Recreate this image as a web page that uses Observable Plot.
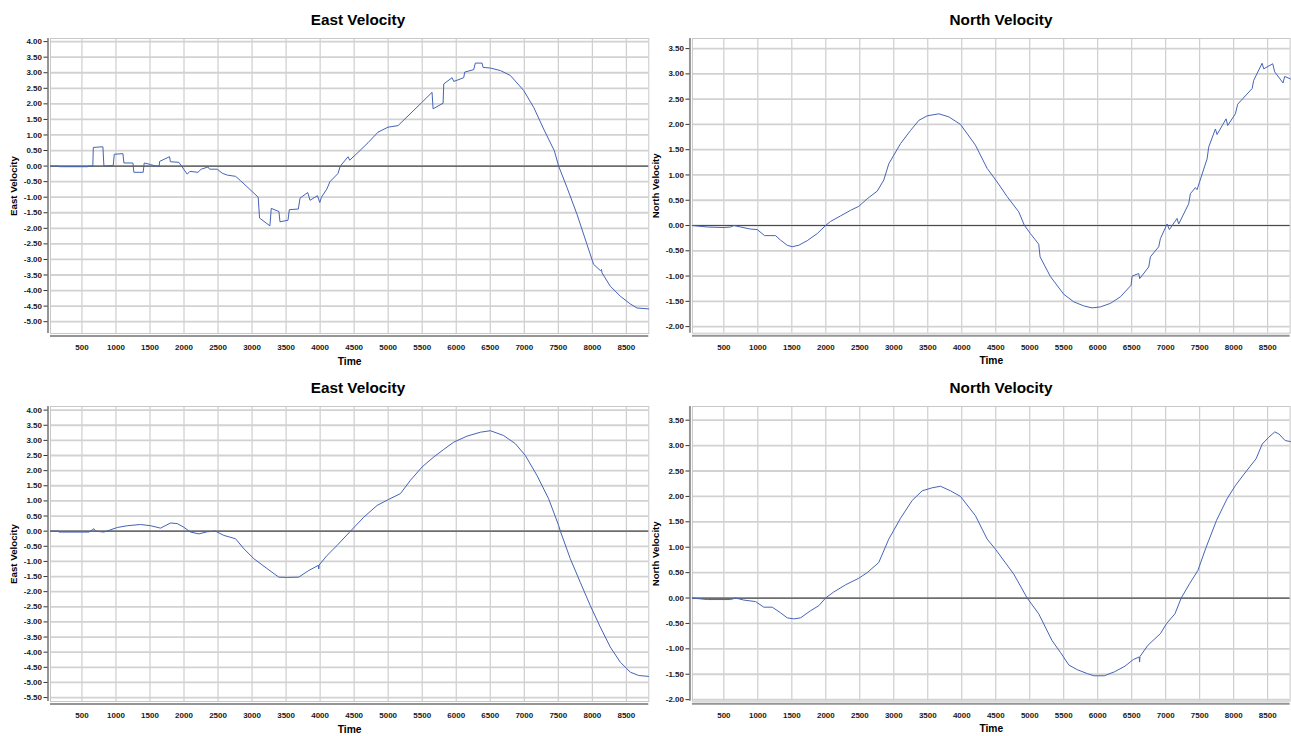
<!DOCTYPE html>
<html><head><meta charset="utf-8">
<script src="https://cdn.jsdelivr.net/npm/d3@7"></script>
<script src="https://cdn.jsdelivr.net/npm/@observablehq/plot@0.6"></script>
<style>
html,body{margin:0;padding:0;background:#fff;}
body{width:1291px;height:736px;position:relative;overflow:hidden;font-family:"Liberation Sans",Arial,sans-serif;}
.title{position:absolute;font-weight:bold;font-size:15.3px;line-height:20px;transform:translateX(-50%);white-space:nowrap;color:#000;}
.panel{position:absolute;}
</style></head><body>
<script>
// ---- tick labels ----
const timeTicks = [500,1000,1500,2000,2500,3000,3500,4000,4500,5000,5500,6000,6500,7000,7500,8000,8500];
const eastTopTicks = [4,3.5,3,2.5,2,1.5,1,0.5,0,-0.5,-1,-1.5,-2,-2.5,-3,-3.5,-4,-4.5,-5];
const eastBottomTicks = [4,3.5,3,2.5,2,1.5,1,0.5,0,-0.5,-1,-1.5,-2,-2.5,-3,-3.5,-4,-4.5,-5,-5.5];
const northTicks = [3.5,3,2.5,2,1.5,1,0.5,0,-0.5,-1,-1.5,-2];

// ---- East Velocity (top) ----
const eastTopTime = [40,160,165,585,590,660,667,808,823,960,975,1102,1117,1249,1263,1400,1415,1508,1583,1636,1641,1787,1800,1925,2047,2086,2204,2253,2351,2375,2488,2562,2636,2758,2831,3090,3110,3262,3282,3395,3410,3528,3548,3680,3705,3818,3852,3960,3995,4020,4098,4145,4262,4297,4410,4435,4557,4704,4851,4998,5145,5488,5645,5660,5807,5817,5939,5964,6110,6125,6257,6281,6380,6395,6502,6649,6796,6991,7138,7285,7442,7505,7628,7775,7922,8019,8120,8135,8142,8264,8411,8558,8656,8826];
const eastTopVel = [0,0,-0.02,-0.02,0,0,0.6,0.62,0,0.02,0.38,0.4,0.1,0.1,-0.2,-0.2,0.1,0.05,0,0,0.15,0.3,0.14,0.12,-0.26,-0.17,-0.2,-0.1,-0.03,-0.1,-0.1,-0.23,-0.29,-0.33,-0.47,-1.0,-1.67,-1.92,-1.36,-1.46,-1.79,-1.74,-1.4,-1.38,-1.03,-0.85,-1.1,-0.95,-1.17,-1.0,-0.74,-0.5,-0.24,0,0.3,0.19,0.44,0.75,1.09,1.25,1.3,2.03,2.37,1.84,2.02,2.64,2.84,2.72,2.84,3.02,3.1,3.31,3.31,3.17,3.15,3.07,2.91,2.43,1.89,1.19,0.49,0,-0.69,-1.55,-2.52,-3.16,-3.36,-3.32,-3.43,-3.86,-4.18,-4.43,-4.56,-4.59];

// ---- North Velocity (top) ----
const northTopTime = [35,256,501,599,647,746,893,991,1099,1260,1334,1432,1506,1603,1726,1873,1996,2069,2216,2363,2485,2609,2756,2853,2926,3099,3246,3368,3491,3662,3809,3981,4201,4373,4521,4668,4838,4922,5010,5132,5152,5304,5500,5647,5794,5917,6040,6187,6334,6491,6506,6603,6618,6750,6775,6897,6922,7020,7054,7167,7191,7338,7363,7437,7461,7609,7632,7731,7755,7888,7912,8025,8059,8271,8294,8418,8442,8574,8603,8726,8750,8834];
const northTopVel = [0,-0.03,-0.04,-0.03,0,-0.03,-0.07,-0.08,-0.2,-0.2,-0.29,-0.39,-0.42,-0.39,-0.3,-0.16,0,0.08,0.19,0.3,0.38,0.53,0.68,0.9,1.22,1.62,1.88,2.08,2.17,2.21,2.15,2.0,1.59,1.13,0.86,0.57,0.27,0,-0.16,-0.37,-0.62,-1.01,-1.36,-1.51,-1.59,-1.63,-1.61,-1.54,-1.41,-1.18,-1.0,-0.95,-1.05,-0.82,-0.62,-0.42,-0.26,0.03,-0.08,0.14,0.03,0.43,0.63,0.75,0.71,1.32,1.55,1.91,1.8,2.11,1.98,2.21,2.4,2.71,2.87,3.21,3.1,3.2,3.04,2.82,2.95,2.9];

// ---- East Velocity (bottom) ----
const eastBottomTime = [40,160,162,602,676,700,823,1019,1166,1361,1508,1655,1802,1900,1997,2096,2218,2341,2463,2585,2757,2879,3026,3222,3393,3516,3686,3833,3975,3980,3985,4103,4250,4446,4641,4837,5008,5180,5327,5498,5669,5816,5963,6159,6355,6502,6697,6869,7016,7187,7358,7505,7530,7676,7823,7970,8117,8264,8411,8558,8680,8826];
const eastBottomVel = [0,0,-0.03,-0.03,0.08,0,-0.03,0.12,0.18,0.22,0.18,0.1,0.27,0.25,0.13,-0.03,-0.09,-0.02,0,-0.14,-0.25,-0.58,-0.91,-1.24,-1.52,-1.53,-1.52,-1.3,-1.13,-1.25,-1.12,-0.8,-0.47,0,0.46,0.85,1.05,1.24,1.68,2.12,2.45,2.7,2.94,3.14,3.27,3.32,3.16,2.89,2.5,1.84,1.07,0.19,0,-0.91,-1.69,-2.46,-3.17,-3.83,-4.33,-4.66,-4.77,-4.8];

// ---- North Velocity (bottom) ----
const northBottomTime = [35,256,599,672,794,966,1088,1212,1334,1432,1529,1628,1775,1897,1996,2118,2290,2485,2609,2779,2926,3099,3270,3417,3565,3687,3834,3981,4201,4373,4496,4765,4962,5132,5329,5451,5576,5699,5852,5943,6096,6249,6402,6524,6610,6616,6622,6738,6922,7014,7136,7228,7350,7472,7595,7748,7901,8023,8176,8329,8420,8512,8604,8665,8757,8834];
const northBottomVel = [0,-0.03,-0.03,0,-0.04,-0.07,-0.18,-0.18,-0.29,-0.39,-0.41,-0.39,-0.25,-0.15,0,0.12,0.26,0.39,0.5,0.7,1.16,1.57,1.92,2.11,2.17,2.2,2.11,2.0,1.62,1.16,0.96,0.47,0,-0.31,-0.84,-1.07,-1.32,-1.41,-1.49,-1.53,-1.53,-1.45,-1.34,-1.21,-1.16,-1.26,-1.15,-0.93,-0.7,-0.5,-0.31,0,0.28,0.54,1.0,1.53,1.95,2.21,2.48,2.74,3.03,3.16,3.27,3.23,3.1,3.08];

const timeDomain = [38, 8830];

function panel(o) {
  const data = o.time.map((t, i) => ({t, v: o.vel[i]}));
  const chart = Plot.plot({
    width: 650, height: 338,
    marginTop: 8, marginBottom: 35, marginLeft: 50, marginRight: 1.7,
    style: {fontFamily: "'Liberation Sans', Arial, sans-serif", fontSize: "8px", color: "#111", background: "transparent", overflow: "visible"},
    x: {domain: timeDomain, label: null},
    y: {domain: o.yDomain, label: null},
    marks: [
      Plot.gridX(timeTicks, {stroke: "#c4c4c4", strokeOpacity: 1, strokeWidth: 1}),
      Plot.gridY(o.yTicks, {stroke: "#d2d2d2", strokeOpacity: 1, strokeWidth: 1.8}),
      Plot.frame({stroke: "#c8c8c8", strokeWidth: 1}),
      Plot.ruleY([0], {stroke: "#4a4a4a", strokeWidth: 1.2}),
      Plot.line(data, {x: "t", y: "v", stroke: "#4563b8", strokeWidth: 1}),
      Plot.ruleX([timeDomain[0]], {dx: -2.5, stroke: "#959595", strokeWidth: 2}),
      Plot.ruleY([o.yDomain[0]], {dy: 2.5, stroke: "#959595", strokeWidth: 2}),
      Plot.axisY(o.yTicks, {tickFormat: d => d.toFixed(2), tickSize: 4, tickPadding: 2, dx: -2.5, label: null, fontSize: 8, fontWeight: "bold", fill: "#1a1a1a", stroke: "#333"}),
      Plot.axisX(timeTicks, {tickFormat: d => String(d), tickSize: 0, tickPadding: 11, label: null, fontSize: 8, fontWeight: "bold", fill: "#1a1a1a"}),
      Plot.text([o.ylabel], {frameAnchor: "left", dx: -36.5, rotate: -90, textAnchor: "middle", lineAnchor: "middle", fontWeight: "bold", fontSize: 9.7, fill: "#000"}),
      Plot.text(["Time"], {frameAnchor: "bottom", dy: 28, textAnchor: "middle", lineAnchor: "middle", fontWeight: "bold", fontSize: 10.3, fill: "#000"})
    ]
  });
  const wrap = document.createElement("div");
  wrap.className = "panel";
  wrap.style.left = o.ox + "px";
  wrap.style.top = (o.oy + 30) + "px";
  wrap.appendChild(chart);
  document.body.appendChild(wrap);
  const t = document.createElement("div");
  t.className = "title";
  t.textContent = o.title;
  t.style.left = o.titleX + "px";
  t.style.top = (o.oy + 10) + "px";
  document.body.appendChild(t);
}

panel({ox: 0, oy: 0, title: "East Velocity", ylabel: "East Velocity", titleX: 358,
  time: eastTopTime, vel: eastTopVel, yDomain: [-5.38, 4.1], yTicks: eastTopTicks});
panel({ox: 641.7, oy: 0, title: "North Velocity", ylabel: "North Velocity", titleX: 1001,
  time: northTopTime, vel: northTopVel, yDomain: [-2.13, 3.7], yTicks: northTicks});
panel({ox: 0, oy: 367.7, title: "East Velocity", ylabel: "East Velocity", titleX: 358,
  time: eastBottomTime, vel: eastBottomVel, yDomain: [-5.63, 4.12], yTicks: eastBottomTicks});
panel({ox: 641.7, oy: 367.7, title: "North Velocity", ylabel: "North Velocity", titleX: 1001,
  time: northBottomTime, vel: northBottomVel, yDomain: [-2.03, 3.77], yTicks: northTicks});
</script>
</body></html>
